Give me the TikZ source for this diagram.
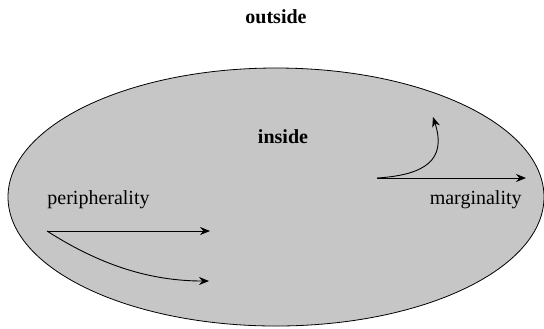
\documentclass[tikz,border=0pt]{standalone}
\usepackage{fontspec}
\setmainfont{Liberation Serif}
\usepackage{xcolor}
\usepackage{tikz}
\usetikzlibrary{positioning,arrows.meta}
\definecolor{zonegray}{RGB}{197,198,197}
\tikzset{
    zone label/.style={font=\bfseries\fontsize{10}{12}\selectfont, inner sep=0pt},
    move label/.style={font=\fontsize{10}{12}\selectfont, inner sep=0pt},
    move arrow/.style={-{Stealth[length=5pt,width=4pt]}, line width=0.45pt},
}

\begin{document}
\begin{tikzpicture}[x=0.5pt, y=-0.5pt]
    \useasboundingbox (0,0) rectangle (544,328);

    %The inside region
    \draw[fill=zonegray, line width=0.4pt] (276,197) ellipse [x radius=134pt, y radius=64.5pt];

    \node[zone label] (outside) at (276,17) {outside};
    \node[zone label] (inside) at (283,137) {inside};

    \node[move label, anchor=west] (periph) at (47,200) {peripherality};
    \node[move label, anchor=east] (margin) at (522,200) {marginality};

    %Start and end points of the moves
    \coordinate (p-start) at (47,231);
    \coordinate (p-end1) at (210,231);
    \coordinate (p-end2) at (209,281);
    \coordinate (m-start) at (377,178);
    \coordinate (m-end1) at (526,178);
    \coordinate (m-end2) at (433,117);

    \draw[move arrow] (p-start) -- (p-end1);
    \draw[move arrow] (p-start) .. controls (100,265) and (150,281) .. (p-end2);

    \draw[move arrow] (m-start) -- (m-end1);
    \draw[move arrow] (m-start) .. controls (425,175) and (447,160) .. (m-end2);
\end{tikzpicture}
\end{document}
